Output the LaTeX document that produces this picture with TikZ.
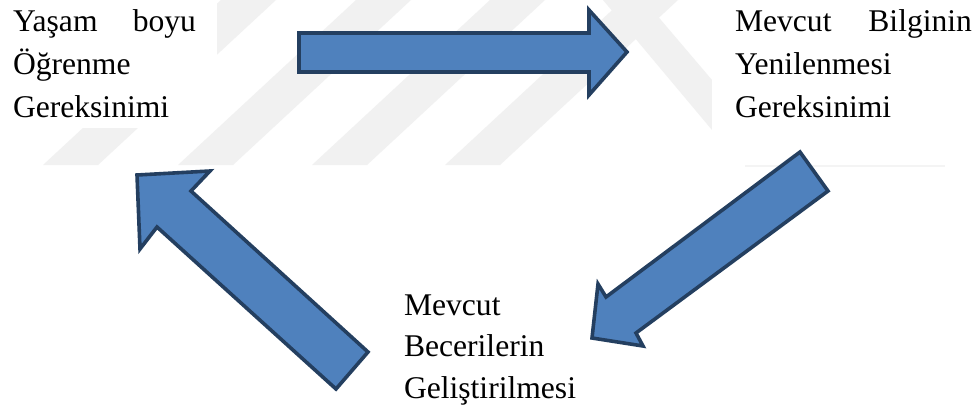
\documentclass[tikz,border=0pt]{standalone}
\usepackage{fontspec}
\setmainfont{Liberation Serif}
\definecolor{arrowfill}{HTML}{4F81BD}
\definecolor{arrowline}{HTML}{243F60}
\definecolor{wmark}{HTML}{F1F1F1}
\definecolor{wmarklight}{HTML}{F4F4F4}

\begin{document}
\begin{tikzpicture}[x=1pt,y=-1pt,
  blockarrow/.style={fill=arrowfill,draw=arrowline,line width=3.6pt,line join=miter},
  stripe/.style={fill=wmark,draw=none},
  textblock/.style={inner sep=0pt,outer sep=0pt,anchor=base west,
    font=\fontsize{31.6}{42.8}\selectfont}]
\useasboundingbox (0,0) rectangle (979,407);
\fill[white] (0,0) rectangle (979,407);

% faint background stripes
\foreach \b in {43,178,312,445}{
  \fill[stripe] (\b,165) -- ++(55,0) -- ++(178,-165) -- ++(-55,0) -- cycle;
}
\fill[stripe] (603,0) -- (640,0) -- (655,13) -- (712,80) -- (712,130) -- cycle;
\fill[wmarklight] (745,165) rectangle (945,167);

% white panels behind the two upper texts
\fill[white] (0,0) rectangle (217,128);
\fill[white] (712,0) rectangle (979,132);

% the three stages (node base = baseline of the first line)
\node[textblock] (lifelong) at (13,31.7)
  {\parbox[t]{200pt}{\raggedright\makebox[183pt][s]{Yaşam boyu}\\Öğrenme\\Gereksinimi}};
\node[textblock] (renewal) at (735,31.7)
  {\parbox[t]{240pt}{\raggedright\makebox[237pt][s]{Mevcut Bilginin}\\Yenilenmesi\\Gereksinimi}};
\node[textblock,font=\fontsize{31.6}{41.7}\selectfont] (skills) at (404,315)
  {\parbox[t]{200pt}{\raggedright Mevcut\\Becerilerin\\Geliştirilmesi}};

% block arrows of the cycle
\draw[blockarrow] (299,33) -- (589,33) -- (589,10) -- (627,52)
  -- (589,95) -- (589,72) -- (299,72) -- cycle;
\draw[blockarrow] (800,152) -- (828,191) -- (636,333) -- (643,346)
  -- (592,338) -- (598,284) -- (606,297) -- cycle;
\draw[blockarrow] (137,175) -- (210,171) -- (191,191) -- (368,352)
  -- (336,389) -- (157,227) -- (140,249) -- cycle;
\end{tikzpicture}
\end{document}
